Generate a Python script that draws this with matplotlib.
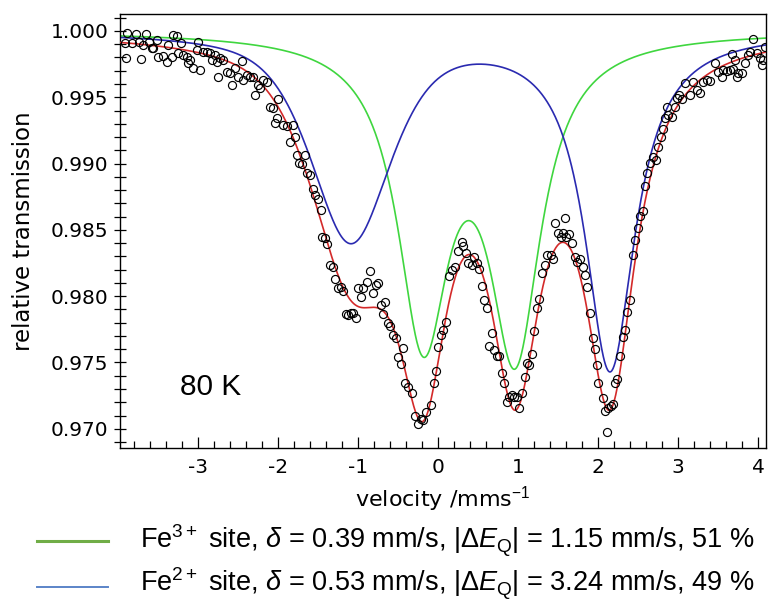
import numpy as np
import matplotlib
matplotlib.use("Agg")
import matplotlib.pyplot as plt
from matplotlib.lines import Line2D
from matplotlib.ticker import MultipleLocator, FormatStrFormatter

plt.rcParams['font.family'] = ['Liberation Sans', 'DejaVu Sans']
plt.rcParams['mathtext.fontset'] = 'custom'
plt.rcParams['mathtext.rm'] = 'Liberation Sans'
plt.rcParams['mathtext.it'] = 'Liberation Sans:italic'
plt.rcParams['mathtext.bf'] = 'Liberation Sans:bold'
plt.rcParams['axes.unicode_minus'] = False

vel_a = [-3.913, -3.900, -3.883, -3.829, -3.775, -3.733, -3.717, -3.683, -3.650, -3.608,
         -3.579, -3.558, -3.517, -3.496, -3.433, -3.392, -3.371, -3.329, -3.308, -3.267,
         -3.246, -3.213, -3.183, -3.142, -3.121, -3.100, -3.058, -3.017, -2.996, -2.975,
         -2.933, -2.892, -2.850, -2.829, -2.787, -2.767, -2.746, -2.725, -2.683, -2.642,
         -2.600, -2.579, -2.538, -2.496, -2.454, -2.433, -2.392, -2.350, -2.308, -2.288,
         -2.246, -2.225, -2.183, -2.142, -2.100, -2.067, -2.038, -2.017, -1.996]
trans_a = [0.99907, 0.99799, 0.99983, 0.99907, 0.99975, 0.99915, 0.99791, 0.99894, 0.99977, 0.99915,
           0.99870, 0.99875, 0.99932, 0.99806, 0.99810, 0.99769, 0.99894, 0.99806, 0.99970, 0.99960,
           0.99832, 0.99912, 0.99817, 0.99800, 0.99756, 0.99781, 0.99719, 0.99857, 0.99917, 0.99706,
           0.99845, 0.99840, 0.99832, 0.99780, 0.99820, 0.99769, 0.99651, 0.99794, 0.99780, 0.99693,
           0.99680, 0.99593, 0.99719, 0.99655, 0.99775, 0.99630, 0.99668, 0.99655, 0.99650, 0.99517,
           0.99593, 0.99568, 0.99630, 0.99618, 0.99429, 0.99417, 0.99304, 0.99342, 0.99485]

vel_b = [-1.933, -1.892, -1.850, -1.817, -1.788, -1.758, -1.733, -1.704, -1.663, -1.642,
         -1.600, -1.567, -1.538, -1.496, -1.467]
trans_b = [0.99291, 0.99284, 0.99165, 0.99291, 0.99203, 0.99065, 0.99002, 0.98997, 0.99065, 0.98929,
           0.98914, 0.98808, 0.98763, 0.98733, 0.98650]

vel_c = [-1.454, -1.413, -1.383, -1.350, -1.317, -1.288, -1.254, -1.217, -1.183, -1.150,
         -1.121, -1.092, -1.058, -1.025, -0.996, -0.967, -0.933, -0.892, -0.850, -0.808,
         -0.775, -0.746, -0.717, -0.683, -0.663, -0.621, -0.600, -0.567, -0.525, -0.496,
         -0.463, -0.433, -0.413, -0.371, -0.329, -0.288, -0.246, -0.217, -0.183, -0.150,
         -0.092]
trans_c = [0.98449, 0.98437, 0.98394, 0.98235, 0.98223, 0.98128, 0.98060, 0.98072, 0.98042, 0.97866,
           0.97858, 0.97871, 0.97876, 0.97833, 0.98060, 0.97992, 0.98060, 0.98109, 0.98192, 0.98022,
           0.98085, 0.98098, 0.97934, 0.97866, 0.97959, 0.97800, 0.97775, 0.97708, 0.97683, 0.97544,
           0.97489, 0.97607, 0.97348, 0.97318, 0.97268, 0.97097, 0.97036, 0.97072, 0.97067, 0.97129,
           0.97180]

vel_d = [-0.050, -0.025, 0.004, 0.033, 0.067, 0.100, 0.142, 0.171, 0.213, 0.254,
         0.296, 0.317, 0.350, 0.379, 0.421, 0.450, 0.483, 0.517, 0.546, 0.575,
         0.608, 0.642, 0.671, 0.700, 0.733, 0.767, 0.796, 0.825, 0.858, 0.892,
         0.921, 0.950, 0.983, 1.017, 1.046, 1.088, 1.108, 1.142, 1.171, 1.200,
         1.233, 1.267, 1.296, 1.338, 1.367, 1.408, 1.433, 1.463, 1.504, 1.533,
         1.567, 1.588, 1.600, 1.642, 1.671, 1.713, 1.742, 1.775, 1.808, 1.838,
         1.867, 1.900, 1.933, 1.963, 1.983, 2.004]
trans_d = [0.97343, 0.97438, 0.97619, 0.97708, 0.97745, 0.97808, 0.98153, 0.98198, 0.98218, 0.98343,
           0.98411, 0.98379, 0.98328, 0.98253, 0.98235, 0.98298, 0.98248, 0.98203, 0.98077, 0.97971,
           0.97909, 0.97625, 0.97725, 0.97594, 0.97549, 0.97549, 0.97423, 0.97348, 0.97205, 0.97242,
           0.97255, 0.97242, 0.97242, 0.97155, 0.97272, 0.97393, 0.97494, 0.97481, 0.97564, 0.97740,
           0.97909, 0.97977, 0.98173, 0.98235, 0.98311, 0.98311, 0.98278, 0.98550, 0.98474, 0.98444,
           0.98474, 0.98587, 0.98449, 0.98469, 0.98399, 0.98298, 0.98260, 0.98278, 0.98223, 0.98160,
           0.98072, 0.97876, 0.97683, 0.97600, 0.97481, 0.97348]

vel_e = [2.058, 2.088, 2.117, 2.129, 2.158, 2.183, 2.213, 2.242, 2.275, 2.308,
         2.338, 2.367, 2.400, 2.433, 2.463]
trans_e = [0.97230, 0.97137, 0.96978, 0.97155, 0.97172, 0.97187, 0.97348, 0.97373, 0.97549, 0.97695,
           0.97745, 0.97883, 0.97971, 0.98311, 0.98424]

vel_f = [2.504, 2.525, 2.558, 2.588, 2.617, 2.650, 2.683, 2.725, 2.754, 2.783,
         2.817, 2.838, 2.867, 2.879, 2.921, 2.963, 2.992, 3.017, 3.046, 3.088,
         3.150, 3.192, 3.233, 3.275, 3.317, 3.358, 3.400, 3.463, 3.504, 3.546,
         3.567, 3.608, 3.650, 3.671, 3.692, 3.713, 3.733, 3.754, 3.796, 3.838,
         3.879, 3.900, 3.942, 3.983, 4.025, 4.046, 4.067, 4.088]
trans_f = [0.98512, 0.98605, 0.98645, 0.98831, 0.98927, 0.99007, 0.99052, 0.99027, 0.99128, 0.99203,
           0.99259, 0.99342, 0.99425, 0.99367, 0.99349, 0.99425, 0.99492, 0.99517, 0.99485, 0.99606,
           0.99517, 0.99618, 0.99555, 0.99535, 0.99618, 0.99630, 0.99625, 0.99756, 0.99693, 0.99651,
           0.99706, 0.99701, 0.99706, 0.99827, 0.99711, 0.99781, 0.99655, 0.99686, 0.99681, 0.99761,
           0.99819, 0.99844, 0.99937, 0.99832, 0.99794, 0.99744, 0.99781, 0.99882]

velocity = np.array(vel_a + vel_b + vel_c + vel_d + vel_e + vel_f)
transmission = np.array(trans_a + trans_b + trans_c + trans_d + trans_e + trans_f)

# fitted doublets: isomer shift, quadrupole splitting (legend), line depth/width
sites = ['Fe3+', 'Fe2+']
delta = [0.39, 0.53]
dEQ = [1.15, 3.24]
depth = [[0.0222, 0.0232], [0.0157, 0.0254]]      # low / high velocity line
hwhm = [[0.39, 0.39], [0.60, 0.38]]
lorentz_frac = [[1.0, 1.0], [0.6, 1.0]]
fit_colors = ['#3fd63f', '#2a2ab0']
sum_color = '#d42a2a'
legend_colors = ['#70ad47', '#5b84c8']
legend_text = [r"Fe$^{3+}$ site, $\delta$ = 0.39 mm/s, |$\Delta E_\mathrm{Q}$| = 1.15 mm/s, 51 %",
               r"Fe$^{2+}$ site, $\delta$ = 0.53 mm/s, |$\Delta E_\mathrm{Q}$| = 3.24 mm/s, 49 %"]


def line_shape(v, c, a, g, eta):
    u = ((v - c) / g) ** 2
    return a * (eta / (1 + u) + (1 - eta) * np.exp(-np.log(2) * u))


v = np.linspace(-3.975, 4.1, 1200)
absorb = []
for i in range(2):
    centers = [delta[i] - dEQ[i] / 2, delta[i] + dEQ[i] / 2]
    a = sum(line_shape(v, centers[k], depth[i][k], hwhm[i][k], lorentz_frac[i][k]) for k in range(2))
    absorb.append(a)

fig = plt.figure(figsize=(7.68, 6.03), dpi=100)
ax = fig.add_axes([0.1563, 0.2570, 0.8411, 0.7198])

ax.plot(v, 1 - absorb[0], color=fit_colors[0], lw=1.2, zorder=2)
ax.plot(v, 1 - absorb[1], color=fit_colors[1], lw=1.2, zorder=2)
ax.plot(v, 1 - absorb[0] - absorb[1], color=sum_color, lw=1.2, zorder=3)
ax.plot(velocity, transmission, 'o', ms=5.8, mfc='none', mec='black', mew=0.85, zorder=4)

ax.set_xlim(-3.975, 4.1)
ax.set_ylim(0.96855, 1.00128)

ax.xaxis.set_major_locator(MultipleLocator(1))
ax.xaxis.set_minor_locator(MultipleLocator(0.2))
ax.yaxis.set_major_locator(MultipleLocator(0.005))
ax.yaxis.set_minor_locator(MultipleLocator(0.001))
ax.yaxis.set_major_formatter(FormatStrFormatter('%.3f'))
ax.xaxis.set_major_formatter(FormatStrFormatter('%d'))

ax.tick_params(axis='x', which='major', direction='in', length=8, width=0.9,
               labelsize=14.5, pad=7, top=False)
ax.tick_params(axis='x', which='minor', direction='in', length=5, width=0.9, top=False)
ax.tick_params(axis='y', which='both', direction='inout', length=9, width=0.9,
               labelsize=14.5, pad=4, right=False)
for lab in ax.get_xticklabels() + ax.get_yticklabels():
    lab.set_family('DejaVu Sans')
for s in ax.spines.values():
    s.set_linewidth(1.0)

ax.set_xlabel('velocity /mms$^{-1}$', fontsize=16, family='DejaVu Sans', labelpad=5)
ax.set_ylabel('relative transmission', fontsize=16.5, family='DejaVu Sans', labelpad=11)

ax.text(0.093, 0.14, '80 K', transform=ax.transAxes, fontsize=21.5, va='center', ha='left')

# legend drawn below the axes
for i, y in enumerate([0.1028, 0.0265]):
    fig.add_artist(Line2D([0.048, 0.141], [y, y], color=legend_colors[i],
                          lw=2.2 if i == 0 else 1.4, transform=fig.transFigure))
    fig.text(0.182, y + (0 if i == 0 else 0.006), legend_text[i], fontsize=19.5, va='center', ha='left')

fig.savefig('out.png', dpi=100)
